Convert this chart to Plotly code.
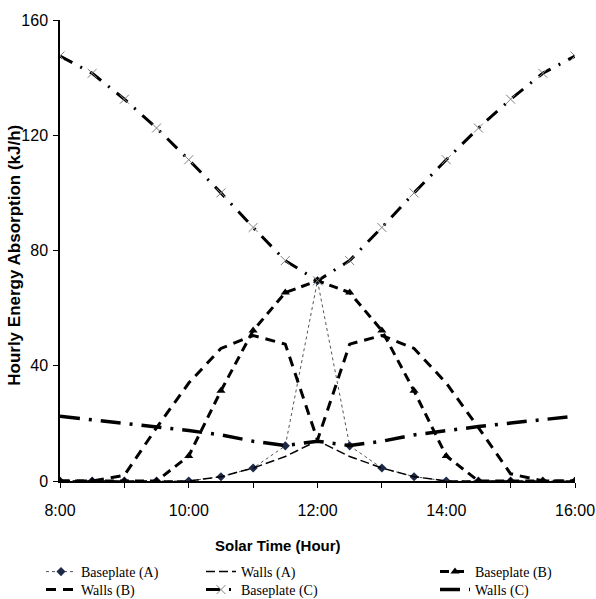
import plotly.graph_objects as go

# ---- data ----
hours = [8, 8.5, 9, 9.5, 10, 10.5, 11, 11.5, 12, 12.5, 13, 13.5, 14, 14.5, 15, 15.5, 16]
tick_vals = [8, 10, 12, 14, 16]
tick_text = ["8:00", "10:00", "12:00", "14:00", "16:00"]

baseplate_A = [0, 0, 0, 0, 0, 1.5, 4.5, 12.2, 69.5, 12.2, 4.5, 1.5, 0, 0, 0, 0, 0]
walls_A = [0, 0, 0, 0, 0, 1.5, 4.5, 8.5, 14.0, 8.5, 4.5, 1.5, 0, 0, 0, 0, 0]
baseplate_B = [0, 0, 0, 0, 8.7, 31.3, 52.2, 65.4, 69.5, 65.4, 52.2, 31.3, 8.7, 0, 0, 0, 0]
walls_B = [0, 0, 2.0, 18.5, 34.0, 46.0, 50.5, 47.5, 14.2, 47.5, 50.5, 46.0, 34.0, 18.5, 2.5, 0, 0]
baseplate_C = [147.5, 141.5, 132.5, 122.5, 111.5, 100.0, 88.0, 76.5, 69.5,
               76.5, 88.0, 100.0, 111.5, 122.5, 132.5, 141.5, 147.5]
walls_C = [22.5, 21.3, 20.1, 18.9, 17.5, 16.0, 13.8, 12.3, 13.8,
           12.3, 13.8, 16.0, 17.5, 18.9, 20.1, 21.3, 22.5]

TICK_FONT = "Liberation Sans, Arial, sans-serif"
TITLE_FONT = "Liberation Sans, Arial, sans-serif"
LEG_FONT = "Liberation Serif, Times New Roman, serif"

fig = go.Figure()

fig.add_trace(go.Scatter(
    x=hours, y=baseplate_A, name="Baseplate (A)", mode="lines+markers",
    line=dict(color="#555555", width=1, dash="dot"),
    marker=dict(symbol="diamond", size=7, color="#1c2a48", line=dict(width=0)),
    legend="legend"))
fig.add_trace(go.Scatter(
    x=hours, y=walls_A, name="Walls (A)", mode="lines",
    line=dict(color="black", width=1.5, dash="9px,4px"),
    legend="legend2"))
fig.add_trace(go.Scatter(
    x=hours, y=baseplate_B, name="Baseplate (B)", mode="lines+markers",
    line=dict(color="black", width=3, dash="9px,6px"),
    marker=dict(symbol="triangle-up", size=8, color="black"),
    legend="legend3"))
fig.add_trace(go.Scatter(
    x=hours, y=walls_B, name="Walls (B)", mode="lines",
    line=dict(color="black", width=3, dash="10px,7px"),
    legend="legend4"))
fig.add_trace(go.Scatter(
    x=hours, y=baseplate_C, name="Baseplate (C)", mode="lines+markers",
    line=dict(color="black", width=3, dash="14px,9px,2px,9px"),
    marker=dict(symbol="x-thin-open", size=9, color="#808080", line=dict(width=1, color="#808080")),
    legend="legend5"))
fig.add_trace(go.Scatter(
    x=hours, y=walls_C, name="Walls (C)", mode="lines",
    line=dict(color="black", width=3.5, dash="20px,9px,3px,9px"),
    legend="legend6"))

leg_common = dict(font=dict(family=LEG_FONT, size=14, color="black"),
                  bgcolor="rgba(0,0,0,0)", yanchor="top", xanchor="left",
                  xref="container", yref="container",
                  orientation="v", tracegroupgap=0, itemwidth=30)

ROW1 = 1 - 556 / 599
ROW2 = 1 - 574 / 599
COL1, COL2, COL3 = 41 / 596, 201 / 596, 435 / 596

fig.update_layout(
    width=596, height=599,
    margin=dict(l=60, r=21, t=20, b=118, autoexpand=False),
    paper_bgcolor="white", plot_bgcolor="white",
    showlegend=True,
    legend=dict(x=COL1, y=ROW1, **leg_common),
    legend2=dict(x=COL2, y=ROW1, **leg_common),
    legend3=dict(x=COL3, y=ROW1, **leg_common),
    legend4=dict(x=COL1, y=ROW2, **leg_common),
    legend5=dict(x=COL2, y=ROW2, **leg_common),
    legend6=dict(x=COL3, y=ROW2, **leg_common),
    xaxis=dict(
        range=[8, 16], tickvals=tick_vals, ticktext=tick_text,
        ticks="outside", ticklen=5, tickwidth=1, tickcolor="black",
        showline=True, linecolor="black", linewidth=1.5,
        showgrid=False, zeroline=False, ticklabelstandoff=9,
        ticklabeloverflow="allow",
        tickfont=dict(family=TICK_FONT, size=16, color="black"),
        minor=dict(dtick=1, ticks="outside", ticklen=5, tickcolor="black", showgrid=False),
    ),
    yaxis=dict(
        range=[0, 160], tickvals=[0, 40, 80, 120, 160],
        ticks="outside", ticklen=5, tickwidth=1, tickcolor="black",
        showline=True, linecolor="black", linewidth=1.5,
        showgrid=False, zeroline=False, ticklabelstandoff=2,
        tickfont=dict(family=TICK_FONT, size=16, color="black"),
    ),
    annotations=[
        dict(text="<b>Solar Time (Hour)</b>", xref="paper", yref="paper",
             x=0.423, y=-0.139, xanchor="center", yanchor="middle", showarrow=False,
             font=dict(family=TITLE_FONT, size=15, color="black")),
        dict(text="<b>Hourly Energy Absorption (kJ/h)</b>", xref="paper", yref="paper",
             x=-0.09, y=0.49, xanchor="center", yanchor="middle", showarrow=False,
             textangle=-90, font=dict(family=TITLE_FONT, size=17, color="black")),
    ],
)

fig.write_html("out.html")
